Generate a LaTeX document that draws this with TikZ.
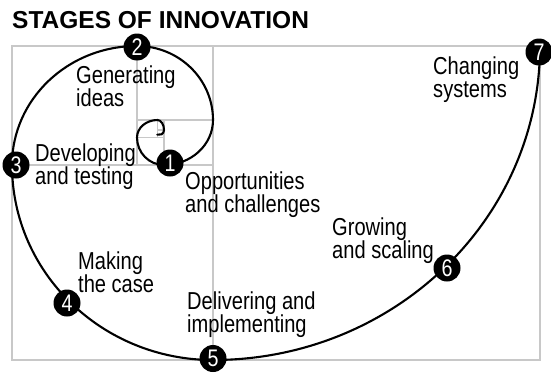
\documentclass[tikz,border=0pt]{standalone}
\usepackage{fontspec}
\setmainfont[FakeStretch=0.82]{Liberation Sans}
\newfontfamily\titlefont{Liberation Sans}
\definecolor{gridgray}{RGB}{200,200,200}
\begin{document}
\begin{tikzpicture}[x=1pt,y=1pt,yscale=-1,
  grid/.style={draw=gridgray,line width=1.1pt},
  spiral/.style={draw=black,line width=2.1pt},
  num/.style={circle,fill=black,text=white,inner sep=0pt,minimum size=27pt,font=\fontsize{24}{24}\selectfont},
  lab/.style={anchor=base west,align=left,inner sep=0pt,font=\fontsize{24.5}{23}\selectfont}]
\useasboundingbox[fill=white] (0,0) rectangle (551,372);
% grid of squares
\draw[grid] (12,46) rectangle (540,360);
\draw[grid] (213,46) -- (213,360);
\draw[grid] (12,165) -- (213,165);
\draw[grid] (137,46) -- (137,165);
\draw[grid] (137,120) -- (213,120);
\draw[grid] (164,120) -- (164,165);
\draw[grid] (137,137.5) -- (164,137.5);
\draw[grid] (157.5,120) -- (157.5,137.5);
\draw[grid] (157.5,130) -- (164,130);
% spiral
\draw[spiral,line cap=round] (540,46)
  arc[start angle=0,end angle=90,x radius=327,y radius=314]
  arc[start angle=90,end angle=180,x radius=201,y radius=195]
  arc[start angle=180,end angle=270,x radius=125,y radius=119]
  arc[start angle=270,end angle=360,x radius=76,y radius=74]
  arc[start angle=0,end angle=90,x radius=49,y radius=45]
  arc[start angle=90,end angle=180,x radius=27,y radius=27.5]
  arc[start angle=180,end angle=270,x radius=20.5,y radius=17.5]
  arc[start angle=270,end angle=360,x radius=6.5,y radius=10]
  arc[start angle=0,end angle=110,x radius=5,y radius=5];
% title
\node[anchor=base west,inner sep=0pt,font=\titlefont\bfseries\fontsize{24.5}{26}\selectfont] (title) at (12,28) {STAGES OF INNOVATION};
% labels (anchored at the baseline of the last line)
\node[lab] (l1) at (185,212) {Opportunities\\and challenges};
\node[lab] (l2) at (76,106) {Generating\\ideas};
\node[lab] (l3) at (35,184) {Developing\\and testing};
\node[lab] (l4) at (78,292) {Making\\the case};
\node[lab] (l5) at (187,332) {Delivering and\\implementing};
\node[lab] (l6) at (332,258) {Growing\\and scaling};
\node[lab] (l7) at (433,97) {Changing\\systems};
% numbers
\node[num] (n1) at (170,163) {1};
\node[num] (n2) at (137,47) {2};
\node[num] (n3) at (16,165) {3};
\node[num] (n4) at (67,303) {4};
\node[num] (n5) at (213,358.5) {5};
\node[num] (n6) at (447,268) {6};
\node[num] (n7) at (539,52) {7};
\end{tikzpicture}
\end{document}
